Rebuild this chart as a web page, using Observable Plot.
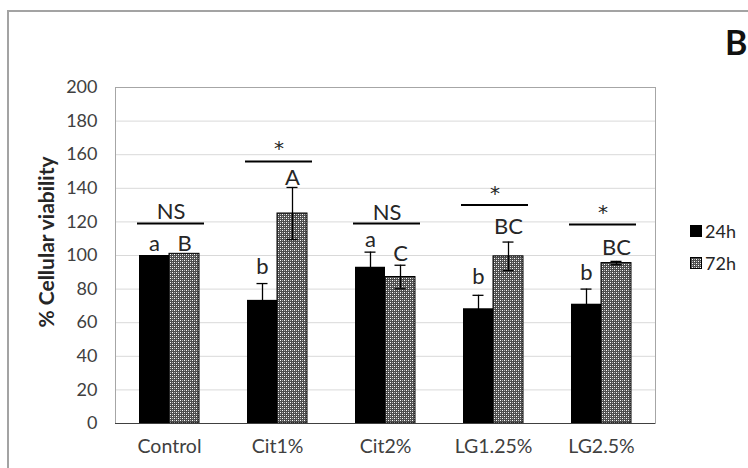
<!DOCTYPE html>
<html><head><meta charset="utf-8">
<script src="https://cdn.jsdelivr.net/npm/d3@7"></script>
<script src="https://cdn.jsdelivr.net/npm/@observablehq/plot@0.6"></script>
<style>
body{margin:0;background:#fff;font-family:Lato,"Noto Sans",sans-serif}
#wrap{position:relative;width:748px;height:468px;overflow:hidden;background:#fff}
#border{position:absolute;left:7px;top:10px;width:800px;height:520px;border-left:2px solid #a3a3a3;border-top:2px solid #a3a3a3}
#chart{position:absolute;left:0;top:0}
#chart svg g[aria-label^="y-axis"] text{font-size:18px !important}
#chart svg g[aria-label^="x-axis"] text{font-size:19.5px !important}
#ylab{position:absolute;left:45px;top:242px;transform:translate(-50%,-50%) rotate(-90deg);font-weight:bold;font-size:21px;color:#262626;white-space:nowrap}
#panel{position:absolute;left:725px;top:21px;font-weight:bold;font-size:34px;color:#111}
.leg{position:absolute;left:690px;font-size:18px;color:#262626;display:flex;align-items:center;gap:3px;line-height:1}
.leg svg{display:block}
</style></head>
<body>
<svg width="0" height="0" style="position:absolute">
  <defs>
    <pattern id="dots" width="4" height="4" patternUnits="userSpaceOnUse">
      <rect width="4" height="4" fill="#4d4d4d"/>
      <rect x="0" y="0" width="1" height="1" fill="#fff"/>
      <rect x="2" y="2" width="1" height="1" fill="#fff"/>
      <rect x="2" y="0" width="1" height="1" fill="#b3b3b3"/>
      <rect x="0" y="2" width="1" height="1" fill="#b3b3b3"/>
    </pattern>
  </defs>
</svg>
<div id="wrap">
  <div id="border"></div>
  <div id="chart"></div>
  <div id="ylab">% Cellular viability</div>
  <div id="panel">B</div>
  <div class="leg" style="top:222px"><svg width="12" height="12"><rect x="0.5" y="0.5" width="11" height="11" fill="#000" stroke="#000"/></svg><span>24h</span></div>
  <div class="leg" style="top:254px"><svg width="12" height="12"><rect x="0.5" y="0.5" width="11" height="11" fill="url(#dots)" stroke="#000"/></svg><span>72h</span></div>
</div>
<script>
const categories = ["Control", "Cit1%", "Cit2%", "LG1.25%", "LG2.5%"];
const mean24 = [100, 73.3, 93, 68.3, 71];
const err24 = [0, 10, 9, 8, 9];
const mean72 = [101, 125, 87.2, 99.5, 95.5];
const err72 = [0, 15.5, 7, 8.5, 1];
const letters24 = ["a", "b", "a", "b", "b"];
const letterY24 = [107, 93, 109, 87, 89.4];
const letters72 = ["B", "A", "C", "BC", "BC"];
const letterY72 = [107, 146, 101, 117, 104.3];
const sigText = ["NS", "*", "NS", "*", "*"];
const sigLineY = [119, 156, 119, 130, 118.4];
const sigTextY = [125.8, 163.5, 125.4, 137, 125.4];
const yTicks = [0, 20, 40, 60, 80, 100, 120, 140, 160, 180, 200];

const rows = categories.map((c, i) => ({
  c, m24: mean24[i], e24: err24[i], m72: mean72[i], e72: err72[i],
  l24: letters24[i], ly24: letterY24[i], l72: letters72[i], ly72: letterY72[i],
  sig: sigText[i], sy: sigLineY[i], sty: sigTextY[i]
}));
const e24 = rows.filter(d => d.e24 > 0);
const e72 = rows.filter(d => d.e72 > 0);
const ns = rows.filter(d => d.sig !== "*");
const star = rows.filter(d => d.sig === "*");

const chart = Plot.plot({
  width: 748, height: 468,
  marginLeft: 115, marginRight: 93, marginTop: 87, marginBottom: 45,
  style: {fontFamily: "Lato, 'Noto Sans', sans-serif", fontSize: "18px", color: "#404040", background: "transparent"},
  x: {domain: categories, paddingInner: 0.444, paddingOuter: 0.222, label: null, tickSize: 0, tickPadding: 16},
  y: {domain: [0, 200], ticks: yTicks, label: null, tickSize: 0, tickPadding: 18},
  marks: [
    Plot.ruleY(yTicks, {stroke: "#d9d9d9"}),
    Plot.frame({stroke: "#a6a6a6"}),
    Plot.barY(rows, {x: "c", y: "m24", fill: "black", insetRight: 30}),
    Plot.barY(rows, {x: "c", y: "m72", fill: "url(#dots)", stroke: "black", strokeWidth: 1, insetLeft: 30}),
    Plot.ruleY([0], {stroke: "#404040"}),
    Plot.ruleX(e24, {x: "c", y1: d => d.m24 - d.e24, y2: d => d.m24 + d.e24, dx: -15, stroke: "black", strokeWidth: 1.3}),
    Plot.tickY(e24, {x: "c", y: d => d.m24 + d.e24, insetLeft: 9.5, insetRight: 39.5, stroke: "black", strokeWidth: 1.3}),
    Plot.ruleX(e72, {x: "c", y1: d => d.m72 - d.e72, y2: d => d.m72 + d.e72, dx: 15, stroke: "black", strokeWidth: 1.3}),
    Plot.tickY(e72, {x: "c", y: d => d.m72 + d.e72, insetLeft: 39.5, insetRight: 9.5, stroke: "black", strokeWidth: 1.3}),
    Plot.tickY(e72, {x: "c", y: d => d.m72 - d.e72, insetLeft: 39.5, insetRight: 9.5, stroke: "black", strokeWidth: 1.3}),
    Plot.tickY(rows, {x: "c", y: "sy", insetLeft: -2, insetRight: -5, stroke: "black", strokeWidth: 2}),
    Plot.text(ns, {x: "c", y: "sty", text: "sig", dx: 1.5, fontSize: 22, fill: "#262626"}),
    Plot.text(star, {x: "c", y: "sty", text: "sig", dx: 1.5, fontSize: 20, fontFamily: "'DejaVu Sans', sans-serif", fill: "#262626"}),
    Plot.text(rows, {x: "c", y: "ly24", text: "l24", dx: -15, fontSize: 22, fill: "#262626"}),
    Plot.text(rows, {x: "c", y: "ly72", text: "l72", dx: 15, fontSize: 22, fill: "#262626"})
  ]
});
document.getElementById("chart").appendChild(chart);
</script>
</body></html>
